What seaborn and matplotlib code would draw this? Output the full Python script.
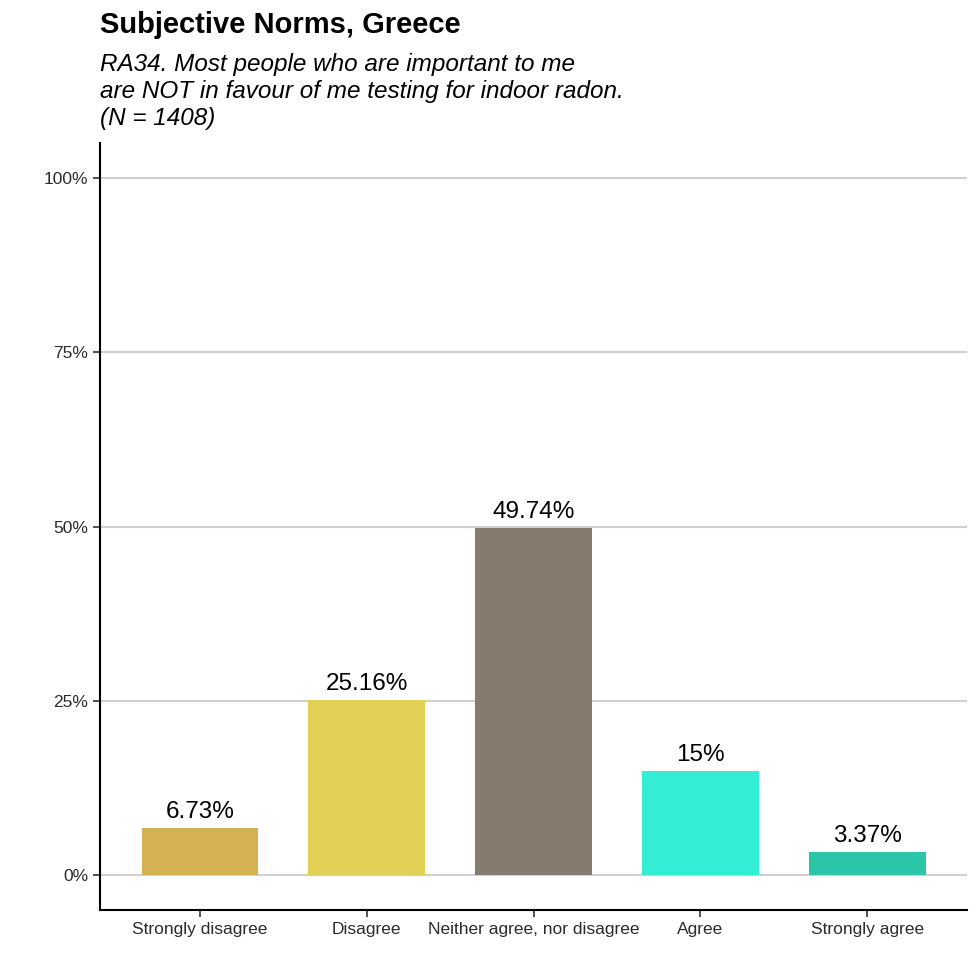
import matplotlib
matplotlib.use("Agg")
import matplotlib.pyplot as plt
import seaborn as sns
import pandas as pd

# data
categories = ["Strongly disagree", "Disagree", "Neither agree, nor disagree", "Agree", "Strongly agree"]
percents = [6.73, 25.16, 49.74, 15.0, 3.37]
value_labels = ["6.73%", "25.16%", "49.74%", "15%", "3.37%"]
colors = ["#D4B254", "#E1CF56", "#857B6E", "#33EED4", "#2BC5A8"]
y_ticks = [0, 25, 50, 75, 100]
y_tick_labels = ["0%", "25%", "50%", "75%", "100%"]

df = pd.DataFrame({"answer": categories, "pct": percents})

sns.set_theme(style="white")
plt.rcParams["font.family"] = ["Liberation Sans", "DejaVu Sans"]

fig = plt.figure(figsize=(9.8, 9.8), dpi=100)
ax = fig.add_axes([0.102, 0.0714, 0.885, 0.7826])

# gridlines first so the bars sit on top
for t in y_ticks:
    ax.axhline(t, color="#D0D0D0", lw=1.5, zorder=0)

sns.barplot(data=df, x="answer", y="pct", hue="answer", palette=colors,
            width=0.7, legend=False, ax=ax, zorder=2, saturation=1, linewidth=0)

for i, (v, lab) in enumerate(zip(percents, value_labels)):
    ax.text(i, v + 0.7, lab, ha="center", va="bottom", fontsize=17.5, color="black")

ax.set_ylim(-5, 105)
ax.set_xlim(-0.6, 4.6)
ax.set_yticks(y_ticks)
ax.set_yticklabels(y_tick_labels)
ax.set_xlabel("")
ax.set_ylabel("")
ax.tick_params(axis="both", labelsize=12.5, labelcolor="#2b2b2b", length=5,
               width=1.2, color="#333333", bottom=True, left=True, direction="out")

for side in ["top", "right"]:
    ax.spines[side].set_visible(False)
for side in ["left", "bottom"]:
    ax.spines[side].set_color("black")
    ax.spines[side].set_linewidth(1.5)

fig.text(0.102, 0.989, "Subjective Norms, Greece", fontsize=21, fontweight="bold",
         ha="left", va="top", color="black")
fig.text(0.102, 0.946,
         "RA34. Most people who are important to me\nare NOT in favour of me testing for indoor radon.\n(N = 1408)",
         fontsize=17.5, fontstyle="italic", ha="left", va="top", linespacing=1.22,
         color="black")

fig.savefig("out.png", dpi=100, facecolor="white")
